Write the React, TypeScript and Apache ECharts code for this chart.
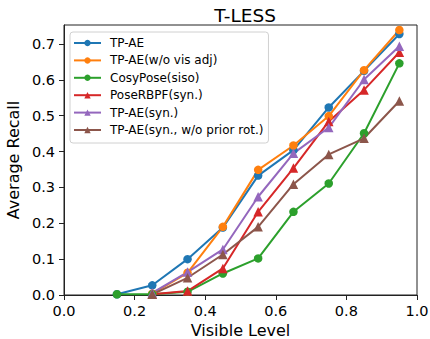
import React, { useEffect, useRef } from "react";
import * as echarts from "echarts";

const visibleLevels = [0.15, 0.25, 0.35, 0.45, 0.55, 0.65, 0.75, 0.85, 0.95];
const seriesNames = [
  "TP-AE",
  "TP-AE(w/o vis adj)",
  "CosyPose(siso)",
  "PoseRBPF(syn.)",
  "TP-AE(syn.)",
  "TP-AE(syn., w/o prior rot.)",
];
const tpAE = [0.002, 0.027, 0.1, 0.188, 0.333, 0.404, 0.523, 0.625, 0.728];
const tpAEnoVis = [null, 0.004, 0.062, 0.19, 0.349, 0.417, 0.499, 0.627, 0.739];
const cosyPose = [0.002, 0.002, 0.009, 0.06, 0.102, 0.232, 0.311, 0.451, 0.646];
const poseRBPF = [null, 0.002, 0.011, 0.074, 0.232, 0.354, 0.484, 0.572, 0.677];
const tpAESyn = [null, 0.006, 0.064, 0.127, 0.274, 0.395, 0.467, 0.601, 0.694];
const tpAESynNoPrior = [null, 0.002, 0.048, 0.113, 0.19, 0.309, 0.392, 0.437, 0.541];
const seriesValues = [tpAE, tpAEnoVis, cosyPose, poseRBPF, tpAESyn, tpAESynNoPrior];
const seriesColors = ["#1f77b4", "#ff7f0e", "#2ca02c", "#d62728", "#9467bd", "#8c564b"];
const seriesSymbols = ["circle", "circle", "circle", "triangle", "triangle", "triangle"];
const yTicks = [0, 0.1, 0.2, 0.3, 0.4, 0.5, 0.6, 0.7];

const FONT = "DejaVu Sans";

export default function App() {
  const ref = useRef<HTMLDivElement>(null);
  useEffect(() => {
    if (!ref.current) return;
    document.body.style.margin = "0";
    const chart = echarts.init(ref.current, undefined, { renderer: "svg" });
    const series = seriesNames.map((name, i) => ({
      name,
      type: "line",
      data: visibleLevels
        .map((x, j) => [x, seriesValues[i][j]])
        .filter((p) => p[1] !== null),
      symbol: seriesSymbols[i],
      symbolSize: seriesSymbols[i] === "circle" ? 8.5 : 9.5,
      lineStyle: { color: seriesColors[i], width: 2 },
      itemStyle: { color: seriesColors[i] },
      color: seriesColors[i],
    }));
    chart.setOption({
      animation: false,
      title: {
        text: "T-LESS",
        left: 240,
        textAlign: "center",
        top: 1,
        textStyle: { fontFamily: FONT, fontSize: 18.5, fontWeight: "normal", color: "#000" },
      },
      grid: {
        left: 64,
        right: 13,
        top: 25,
        bottom: 44,
        outerBoundsMode: "none",
        containLabel: false,
        show: true,
        borderColor: "#222",
        borderWidth: 1,
        backgroundColor: "transparent",
      },
      legend: {
        orient: "vertical",
        left: 70,
        top: 32,
        data: seriesNames,
        itemWidth: 27,
        itemHeight: 8,
        itemGap: 4.4,
        padding: [4.5, 5, 6.5, 3],
        backgroundColor: "rgba(255,255,255,0.8)",
        borderColor: "#d0d0d0",
        borderWidth: 1,
        borderRadius: 3,
        textStyle: {
          fontFamily: FONT,
          fontSize: 12,
          color: "#000",
          lineHeight: 13,
          padding: [0, 0, 0, 4],
        },
      },
      xAxis: {
        type: "value",
        min: 0,
        max: 1,
        interval: 0.2,
        name: "Visible Level",
        nameLocation: "middle",
        nameGap: 23,
        nameTextStyle: { fontFamily: FONT, fontSize: 16, lineHeight: 16, color: "#000" },
        axisLine: { show: true, lineStyle: { color: "#222", width: 1 } },
        axisTick: { show: true, length: 5, lineStyle: { color: "#222" } },
        splitLine: { show: false },
        axisLabel: {
          fontFamily: FONT,
          fontSize: 14.5,
          color: "#000",
          margin: 8,
          formatter: (v: number) => v.toFixed(1),
        },
      },
      yAxis: {
        type: "value",
        min: 0,
        max: 0.753,
        name: "Average Recall",
        nameLocation: "middle",
        nameGap: 41,
        nameTextStyle: { fontFamily: FONT, fontSize: 16, color: "#000" },
        axisLine: { show: true, lineStyle: { color: "#222", width: 1 } },
        axisTick: { show: true, length: 5, lineStyle: { color: "#222" }, customValues: yTicks },
        splitLine: { show: false },
        axisLabel: {
          fontFamily: FONT,
          fontSize: 14.5,
          color: "#000",
          margin: 9,
          customValues: yTicks,
          formatter: (v: number) => v.toFixed(1),
        },
      },
      series,
    });
    return () => chart.dispose();
  }, []);
  return <div ref={ref} style={{ width: 430, height: 339 }} />;
}
